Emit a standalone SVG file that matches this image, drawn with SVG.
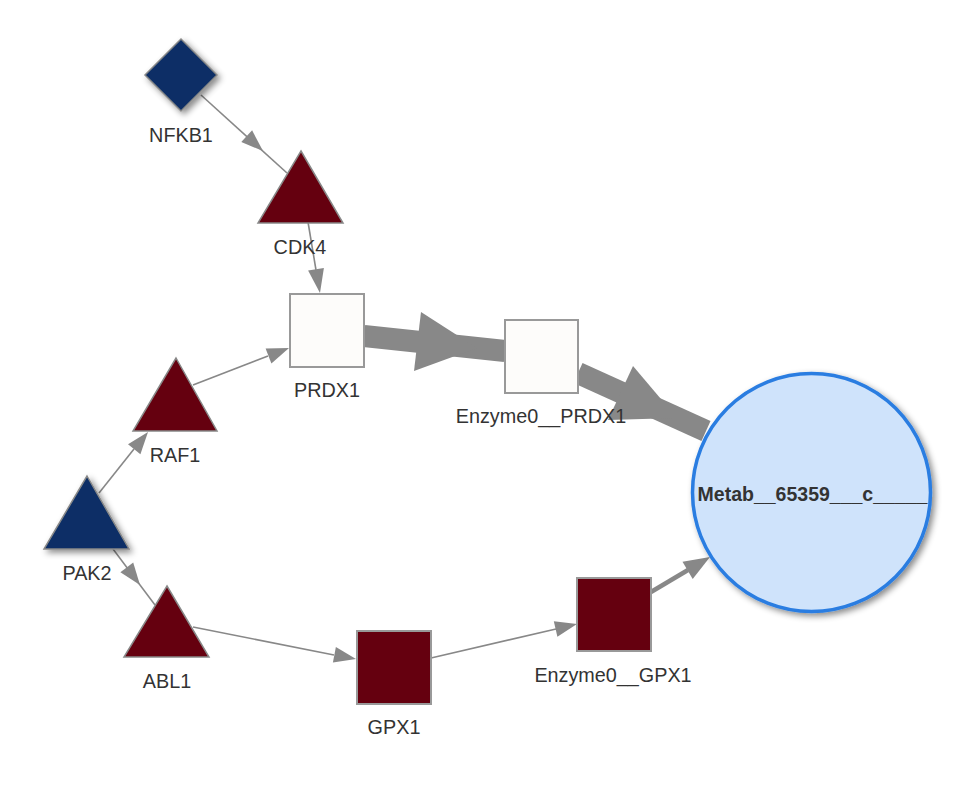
<svg xmlns="http://www.w3.org/2000/svg" width="971" height="807" viewBox="0 0 971 807">
<defs>
<filter id="sh" x="-30%" y="-30%" width="160%" height="160%">
<feDropShadow dx="3" dy="3" stdDeviation="3" flood-color="#000" flood-opacity="0.45"/>
</filter>
<style>
.lbl{font-family:"Liberation Sans",Arial,sans-serif;font-size:19.8px;fill:#333;text-anchor:middle}
.bold{font-weight:bold;font-size:19.5px}
.edge{stroke:#888;stroke-width:1.6;fill:none}
.thick{stroke:#888;stroke-width:22;fill:none}
.mid{stroke:#888;stroke-width:4.5;fill:none}
.ah{fill:#888;stroke:none}
.red{fill:#65000f;stroke:#888;stroke-width:1.5}
.blue{fill:#0b2f66;stroke:#888;stroke-width:1.5}
.white{fill:#fdfcfa;stroke:#999;stroke-width:2}
.met{fill:#cfe3fb;stroke:#2a7de1;stroke-width:3.5}
</style>
</defs>
<rect width="971" height="807" fill="#fff"/>
<g id="edges">
<line class="edge" x1="201" y1="95" x2="287" y2="173"/>
<polygon class="ah" points="263,151 241.3,142.1 252.1,130.3"/>
<line class="edge" x1="308" y1="222" x2="316" y2="270"/>
<polygon class="ah" points="320,293 308.1,270.6 323.9,268"/>
<line class="edge" x1="99" y1="493" x2="134" y2="449"/>
<polygon class="ah" points="148,432 140.4,454.2 128,444.2"/>
<line class="edge" x1="113" y1="549" x2="155" y2="605"/>
<polygon class="ah" points="140,585 120.4,572.2 133.2,562.6"/>
<line class="edge" x1="193" y1="385" x2="268" y2="356"/>
<polygon class="ah" points="289,348 271.4,363.4 265.6,348.4"/>
<line class="edge" x1="193" y1="627" x2="334" y2="655"/>
<polygon class="ah" points="356,659 332.9,662.6 335.9,647"/>
<line class="edge" x1="431" y1="658" x2="556" y2="629"/>
<polygon class="ah" points="577,624 557.4,636.8 553.8,621.2"/>
<line class="mid" x1="651" y1="592" x2="688" y2="570"/>
<polygon class="ah" points="710,557 692.7,578.9 682.5,561.7"/>
<line class="thick" x1="364" y1="336" x2="505" y2="351"/>
<polygon class="ah" points="477,348 421,312 414,371"/>
<line class="thick" x1="578" y1="373" x2="706" y2="431"/>
<polygon class="ah" points="677,418 633,366 608,420"/>
</g>
<g id="NFKB1">
<polygon class="blue" filter="url(#sh)" points="181,39 217,75 181,111 145,75"/>
<text class="lbl" x="181" y="142">NFKB1</text>
</g>
<g id="CDK4">
<polygon class="red" points="301,151 343,223 258,223"/>
<text class="lbl" x="300" y="254">CDK4</text>
</g>
<g id="PRDX1">
<rect class="white" x="290" y="294" width="74" height="73"/>
<text class="lbl" x="327" y="397">PRDX1</text>
</g>
<g id="Enzyme0__PRDX1">
<rect class="white" x="505" y="320" width="73" height="73"/>
<text class="lbl" x="541" y="423">Enzyme0__PRDX1</text>
</g>
<g id="RAF1">
<polygon class="red" points="176,358 217,431 133,431"/>
<text class="lbl" x="175" y="462">RAF1</text>
</g>
<g id="PAK2">
<polygon class="blue" filter="url(#sh)" points="87,476 129,549 44,549"/>
<text class="lbl" x="87" y="580">PAK2</text>
</g>
<g id="ABL1">
<polygon class="red" points="167,586 209,657 124,657"/>
<text class="lbl" x="167" y="688">ABL1</text>
</g>
<g id="GPX1">
<rect class="red" x="357" y="631" width="74" height="73" style="stroke:#999;stroke-width:2"/>
<text class="lbl" x="394" y="734">GPX1</text>
</g>
<g id="Enzyme0__GPX1">
<rect class="red" x="577" y="578" width="74" height="73" style="stroke:#999;stroke-width:2"/>
<text class="lbl" x="613" y="682">Enzyme0__GPX1</text>
</g>
<g id="Metab__65359___c_____">
<circle class="met" filter="url(#sh)" cx="811.5" cy="492.5" r="119"/>
<text class="lbl bold" x="812.5" y="501">Metab__65359___c_____</text>
</g>
</svg>
